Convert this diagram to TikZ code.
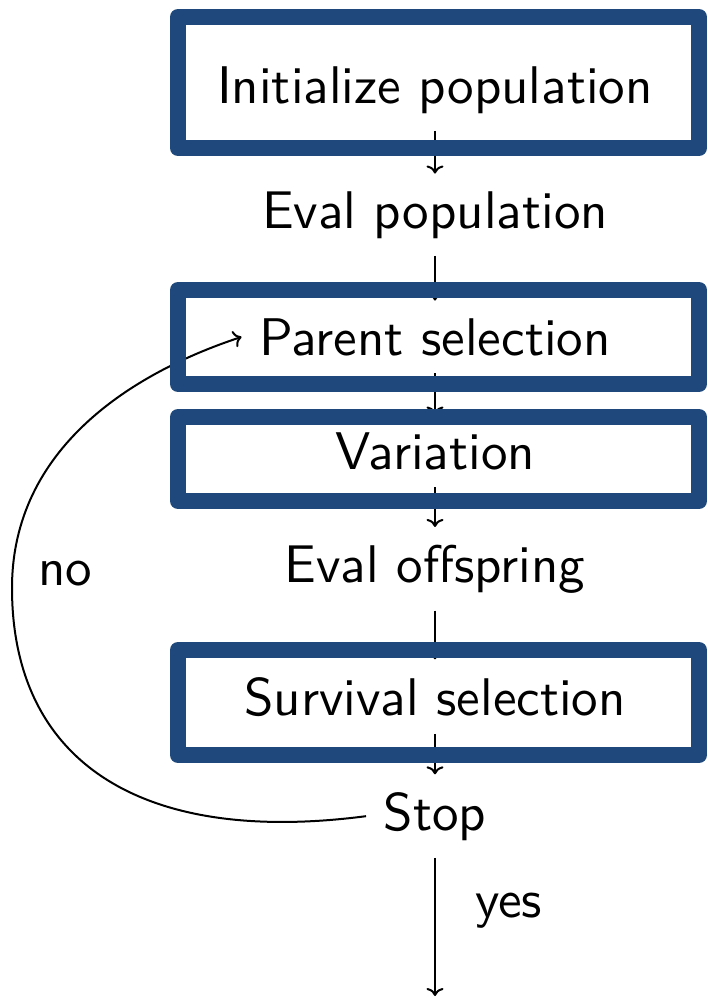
\documentclass[tikz,border=0pt]{standalone}
\usepackage{fontspec}
\setsansfont{lmsans10-regular.otf}
\usetikzlibrary{arrows.meta}
\definecolor{hlblue}{RGB}{31,73,125}
\begin{document}
\begin{tikzpicture}[x=1pt,y=-1pt,
  every node/.style={font=\sffamily\fontsize{53}{64}\selectfont,inner sep=17.5pt},
  stage/.style={anchor=base},
  conn/.style={line width=2pt,-{To[length=8pt,width=17pt]}},
  highlight/.style={draw=hlblue,line width=16pt,line join=round}]
\useasboundingbox (0,0) rectangle (708,998);

% flow stages
\node[stage] (init)    at (435,103) {Initialize population};
\node[stage] (evalpop) at (435,228) {Eval population};
\node[stage] (parent)  at (435,355) {Parent selection};
\node[stage] (var)     at (435,469) {Variation};
\node[stage] (evaloff) at (435,582) {Eval offspring};
\node[stage] (surv)    at (435,715) {Survival selection};
\node[stage] (stop)    at (435,830) {Stop};
\coordinate (done) at (435,996);
\coordinate (turn) at (12,588);

% branch labels
\node[anchor=base]      (no)  at (65,585)  {no};
\node[anchor=base west,inner sep=0pt] (yes) at (475,917) {yes};

% connectors
\draw[conn] (init.south)    -- (evalpop.north);
\draw[conn] (evalpop.south) -- (parent.north);
\draw[conn] (parent.south)  -- (var.north);
\draw[conn] (var.south)     -- (evaloff.north);
\draw[conn] (evaloff.south) -- (surv.north);
\draw[conn] (surv.south)    -- (stop.north);
\draw[conn] (stop.south)    -- (done);
\draw[conn] (stop.west) .. controls +(-230,30) and +(0,170) .. (turn)
            .. controls +(0,-140) and +(-109,36) .. (parent.west);

% highlighted operators
\draw[highlight] (178,17)  rectangle (699,148);
\draw[highlight] (178,290) rectangle (699,384);
\draw[highlight] (178,417) rectangle (699,501);
\draw[highlight] (178,650) rectangle (699,755);
\end{tikzpicture}
\end{document}
